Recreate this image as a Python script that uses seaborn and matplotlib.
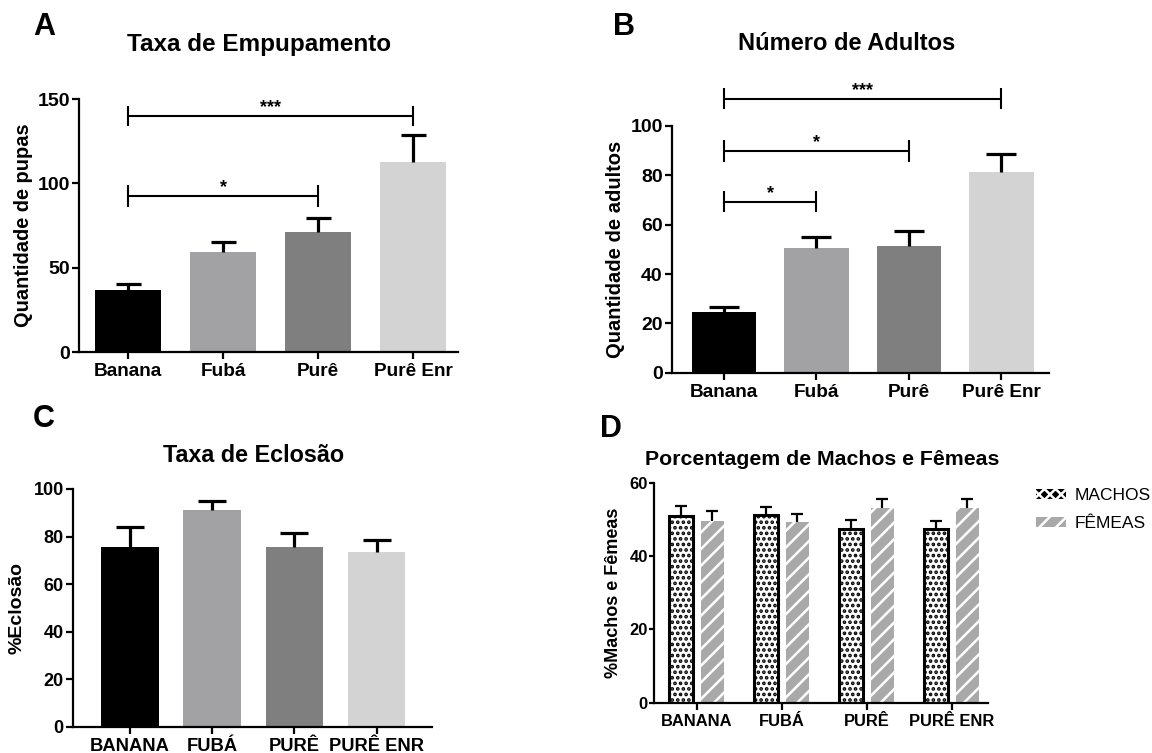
import numpy as np
import pandas as pd
import matplotlib
matplotlib.use('Agg')
import matplotlib.pyplot as plt
import matplotlib.patches as mpatches
import seaborn as sns

# ---- data ----
grupos = ['Banana', 'Fubá', 'Purê', 'Purê Enr']
grupos_up = ['BANANA', 'FUBÁ', 'PURÊ', 'PURÊ ENR']
cores = ['#000000', '#a2a2a5', '#7f7f7f', '#d3d3d3']

pupas = [36.8, 59.1, 71.0, 112.5]
pupas_sup = [40.3, 65.0, 79.2, 128.6]

adultos = [24.7, 50.4, 51.4, 81.2]
adultos_sup = [26.5, 54.9, 57.6, 88.7]

eclosao = [75.7, 91.2, 75.7, 73.4]
eclosao_sup = [83.9, 95.0, 81.4, 78.5]

sexos = ['MACHOS', 'FÊMEAS']
machos = [50.9, 51.2, 47.4, 47.3]
machos_sup = [53.6, 53.3, 49.8, 49.6]
femeas = [49.6, 49.2, 53.2, 53.2]
femeas_sup = [52.3, 51.4, 55.5, 55.5]

# significance brackets: (from, to, height, half tick, label)
sig_A = [(0, 3, 140, 6, '***'), (0, 2, 92.7, 6.5, '*')]
sig_B = [(0, 3, 111, 4.3, '***'), (0, 2, 90, 4.4, '*'), (0, 1, 69.3, 4.2, '*')]

sns.set_style('ticks')
plt.rcParams['font.family'] = ['Liberation Sans', 'DejaVu Sans']
plt.rcParams['font.weight'] = 'bold'
plt.rcParams['hatch.linewidth'] = 1.8
for k in ['text.color', 'axes.labelcolor', 'xtick.color', 'ytick.color']:
    plt.rcParams[k] = 'black'

fig = plt.figure(figsize=(11.52, 7.53), dpi=100)


def style_axes(ax, xfs, yfs, lw=1.6, ylen=5, ypad=1.5):
    for s in ['top', 'right']:
        ax.spines[s].set_visible(False)
    for s in ['left', 'bottom']:
        ax.spines[s].set_linewidth(lw)
        ax.spines[s].set_color('black')
    ax.tick_params(axis='both', width=lw, color='black', labelcolor='black')
    ax.tick_params(axis='x', labelsize=xfs, length=5, pad=3)
    ax.tick_params(axis='y', labelsize=yfs, length=ylen, pad=ypad)
    for t in ax.get_xticklabels() + ax.get_yticklabels():
        t.set_fontweight('bold')
    ax.set_xlabel('')


def upper_errors(ax, bars, tops, cap, lw, color='black'):
    xs = [b.get_x() + b.get_width() / 2 for b in bars]
    hs = [b.get_height() for b in bars]
    err = np.array(tops) - np.array(hs)
    ax.errorbar(xs, hs, yerr=[np.zeros(len(hs)), err], fmt='none',
                ecolor=color, elinewidth=lw, capsize=0, zorder=4)
    ax.plot(xs, tops, ls='none', marker='_', markersize=cap, mew=lw,
            color=color, zorder=4)


def brackets(ax, sigs):
    for x1, x2, y, h, txt in sigs:
        kw = dict(color='black', lw=1.5, clip_on=False, solid_capstyle='butt')
        ax.plot([x1, x2], [y, y], **kw)
        ax.plot([x1, x1], [y - h, y + h], **kw)
        ax.plot([x2, x2], [y - h, y + h], **kw)
        ax.text((x1 + x2) / 2, y, txt, ha='center', va='bottom',
                fontsize=13, fontweight='bold')


def simple_bars(ax, labels, vals, tops, cap):
    sns.barplot(x=labels, y=vals, hue=labels, palette=cores, width=0.7,
                saturation=1, legend=False, errorbar=None, linewidth=0, ax=ax)
    upper_errors(ax, ax.patches[:len(vals)], tops, cap, 2.3)


# ---- A ----
axA = fig.add_axes([0.0686, 0.5325, 0.329, 0.336])
simple_bars(axA, grupos, pupas, pupas_sup, 18)
axA.set_ylim(0, 150)
axA.set_yticks([0, 50, 100, 150])
axA.set_xlim(-0.516, 3.474)
brackets(axA, sig_A)
style_axes(axA, 13.7, 14)
axA.set_ylabel('Quantidade de pupas', fontsize=14.4, fontweight='bold', labelpad=3)

# ---- B ----
axB = fig.add_axes([0.5831, 0.505, 0.3275, 0.3277])
simple_bars(axB, grupos, adultos, adultos_sup, 21)
axB.set_ylim(0, 100)
axB.set_yticks([0, 20, 40, 60, 80, 100])
axB.set_xlim(-0.565, 3.514)
brackets(axB, sig_B)
style_axes(axB, 13.7, 14)
axB.set_ylabel('Quantidade de adultos', fontsize=14.5, fontweight='bold', labelpad=4)

# ---- C ----
axC = fig.add_axes([0.0631, 0.0349, 0.3119, 0.3157])
simple_bars(axC, grupos_up, eclosao, eclosao_sup, 20)
axC.set_ylim(0, 100)
axC.set_yticks([0, 20, 40, 60, 80, 100])
axC.set_xlim(-0.697, 3.674)
style_axes(axC, 13.2, 13)
axC.set_ylabel('%Eclosão', fontsize=14, fontweight='bold', labelpad=6)

# ---- D ----
axD = fig.add_axes([0.5677, 0.0668, 0.29, 0.2922])
df = pd.DataFrame({
    'grupo': grupos_up * 2,
    'sexo': [sexos[0]] * 4 + [sexos[1]] * 4,
    'valor': machos + femeas,
})
sns.barplot(data=df, x='grupo', y='valor', hue='sexo', hue_order=sexos,
            width=0.74, gap=0.25, saturation=1, legend=False, errorbar=None,
            ax=axD)
cont_m, cont_f = axD.containers[0], axD.containers[1]
for b in cont_m:
    b.set_facecolor('white')
    b.set_edgecolor('black')
    b.set_linewidth(2.2)
    b.set_hatch('...')
for b in cont_f:
    b.set_facecolor('#a9a9a9')
    b.set_edgecolor('white')
    b.set_linewidth(0)
    b.set_hatch('//')
upper_errors(axD, list(cont_m), machos_sup, 8, 1.6)
upper_errors(axD, list(cont_f), femeas_sup, 8, 1.6)
axD.set_ylim(0, 60)
axD.set_yticks([0, 20, 40, 60])
axD.set_xlim(-0.502, 3.427)
style_axes(axD, 11.9, 11.9, ylen=3.5, ypad=1)
axD.set_ylabel('%Machos e Fêmeas', fontsize=13, fontweight='bold', labelpad=5)

handles = [
    mpatches.Patch(facecolor='black', edgecolor='white', hatch='xxx', linewidth=0),
    mpatches.Patch(facecolor='#a9a9a9', edgecolor='white', hatch='//', linewidth=0),
]
fig.legend(handles, sexos, loc='upper left', bbox_to_anchor=(1036 / 1152, 1 - 488 / 753),
           frameon=False, prop={'weight': 'normal', 'size': 12.5},
           handlelength=1.75, handleheight=0.5, handletextpad=0.45,
           labelspacing=0.75, borderpad=0, borderaxespad=0)

# ---- titles and panel letters ----
fig.text(258.7 / 1152, 1 - 50.5 / 753, 'Taxa de Empupamento', ha='center', va='baseline',
         fontsize=17.5, fontweight='bold')
fig.text(847 / 1152, 1 - 50 / 753, 'Número de Adultos', ha='center', va='baseline',
         fontsize=17, fontweight='bold')
fig.text(253.7 / 1152, 1 - 461.7 / 753, 'Taxa de Eclosão', ha='center', va='baseline',
         fontsize=16.8, fontweight='bold')
fig.text(822 / 1152, 1 - 465 / 753, 'Porcentagem de Machos e Fêmeas', ha='center',
         va='baseline', fontsize=15.3, fontweight='bold')
for letra, x, y in [('A', 33, 35), ('B', 613, 35), ('C', 33, 427), ('D', 600, 437)]:
    fig.text(x / 1152, 1 - y / 753, letra, ha='left', va='baseline',
             fontsize=22, fontweight='bold')

fig.savefig('out.png', dpi=100)
